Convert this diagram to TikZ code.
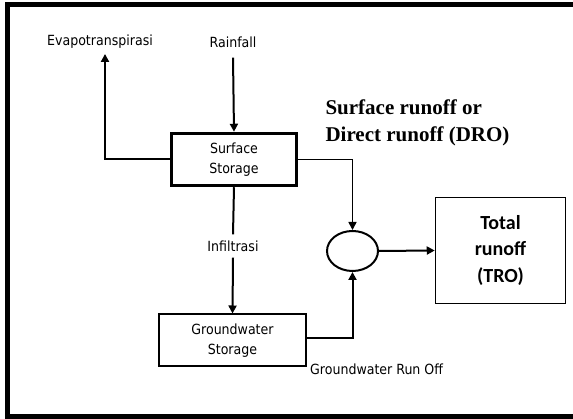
\documentclass[tikz,border=0pt]{standalone}
\usepackage{fontspec}
\newfontfamily\condfont{DejaVu Sans Condensed}
\newfontfamily\timesfont{Liberation Serif}
\newfontfamily\calibfont{Carlito}
\usepackage{tikz}
\usetikzlibrary{shapes,arrows.meta,positioning}

\tikzset{
  label text/.style={font=\condfont\fontsize{14}{20}\selectfont, align=center, inner sep=1pt},
  storebox/.style={draw, label text, minimum width=#1, minimum height=52pt},
  flow/.style={line width=2pt, ->},
}

\begin{document}
\begin{tikzpicture}[x=1pt,y=1pt,>={Triangle[length=8pt,width=8pt]}]
			\useasboundingbox (0,0) rectangle (573,419);
			% Outer frame (open on the right)
			\draw[line width=5pt] (575,414) -| (7,2.5) -- (575,2.5);
			% Storages and junction
			\node[storebox=125pt, line width=3.5pt] (surf) at (234,259.5) {Surface\\Storage};
			\node[storebox=147pt, line width=2pt] (gw) at (232.5,78.5) {Groundwater\\Storage};
			\node[draw, ellipse, line width=2pt, minimum width=51pt, minimum height=40pt] (junc) at (352.5,168) {};
			\node[draw, line width=1.5pt, minimum width=130pt, minimum height=106pt, align=center,
			      font=\calibfont\bfseries\fontsize{20}{26.5}\selectfont] (tro) at (500.5,168.5) {Total\\runoff\\(TRO)};
			% Labels
			\node[label text] (rain) at (233,377) {Rainfall};
			\node[label text] (evap) at (100,377) {Evapotranspirasi};
			\node[label text, inner sep=6pt] (infil) at (233,173) {Infiltrasi};
			\node[font=\timesfont\bfseries\fontsize{21}{27}\selectfont, align=left, anchor=west] (dro) at (322,296) {Surface runoff or\\Direct runoff (DRO)};
			\node[label text, anchor=west] (gwro) at (309,50) {Groundwater Run Off};
			% Flows
			\draw[flow] ([yshift=-9pt]rain.south) -- (surf.north);
			\draw[flow] (surf.west) -| ([xshift=5pt,yshift=-4pt]evap.south);
			\draw[line width=2pt] (surf.south) -- (infil.north);
			\draw[flow] (infil.south) -- (gw.north);
			\draw[line width=1.6pt, ->] (surf.east) -| (junc.north);
			\draw[flow] ([yshift=2.5pt]gw.east) -| (junc.south);
			\draw[flow] (junc.east) -- (tro.west);
		\end{tikzpicture}
\end{document}
